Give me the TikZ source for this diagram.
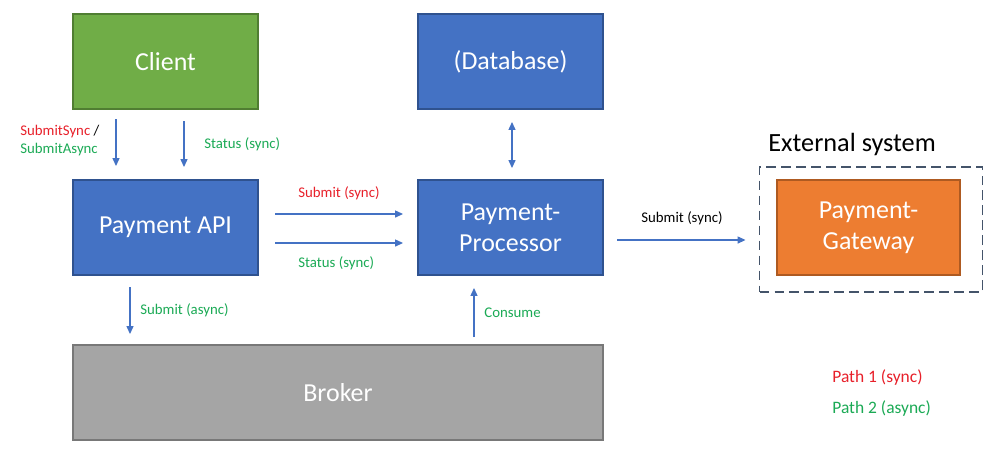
\documentclass[tikz,border=0pt]{standalone}
\usepackage{fontspec}
\setmainfont{Carlito}
\usetikzlibrary{arrows.meta,calc}
\newlength\pxu
\setlength\pxu{0.567pt}
\definecolor{bxblue}{HTML}{4472C4}
\definecolor{bxblueb}{HTML}{2F528F}
\definecolor{bxgreen}{HTML}{70AD47}
\definecolor{bxgreenb}{HTML}{507E32}
\definecolor{bxorange}{HTML}{ED7D31}
\definecolor{bxorangeb}{HTML}{AE5A21}
\definecolor{bxgray}{HTML}{A5A5A5}
\definecolor{bxgrayb}{HTML}{787878}
\definecolor{lblred}{HTML}{E8202A}
\definecolor{lblgreen}{HTML}{1BAA55}
\definecolor{extline}{HTML}{44546A}
\tikzset{
  box/.style={rectangle, inner sep=0pt, outer sep=0pt, line width=1.1pt,
    minimum width=185\pxu, minimum height=95\pxu, text=white, align=center,
    font=\fontsize{14.7pt}{17.6pt}\selectfont},
  bluebox/.style={box, fill=bxblue, draw=bxblueb},
  arr/.style={draw=bxblue, line width=0.6pt, -{Triangle[length=4.5pt,width=4pt]}},
  darr/.style={draw=bxblue, line width=0.6pt, {Triangle[length=4.5pt,width=4pt]}-{Triangle[length=4.5pt,width=4pt]}},
  lbl/.style={inner sep=0pt, anchor=west, font=\fontsize{8.4pt}{10pt}\selectfont},
  pathlbl/.style={inner sep=0pt, anchor=west, font=\fontsize{9.9pt}{12pt}\selectfont},
}
\begin{document}
\begin{tikzpicture}[x=0.567pt, y=-0.567pt]
\useasboundingbox (0,0) rectangle (1000,464);
\fill[white] (0,0) rectangle (1000,464);

\node[box, fill=bxgreen, draw=bxgreenb] (client) at (165.5,61.5) {Client};
\node[bluebox] (db) at (510.5,61.5) {(Database)};
\node[bluebox] (api) at (165.5,227.5) {Payment API};
\node[bluebox] (proc) at (510.5,227.5) {Payment-\\Processor};
\node[box, fill=bxgray, draw=bxgrayb, minimum width=530\pxu] (broker) at (338,392.5) {Broker};
\node[draw=extline, dashed, dash pattern=on 5.5pt off 3pt, line width=1.1pt, inner sep=0pt,
      minimum width=223\pxu, minimum height=125\pxu] (ext) at (871,229.5) {};
\node[box, fill=bxorange, draw=bxorangeb, minimum width=183\pxu] (gw) at (868.5,227.5) {Payment-\\Gateway};
\node[inner sep=0pt, anchor=west, font=\fontsize{14.9pt}{17pt}\selectfont] (exttitle) at (768,144) {External system};

% Client -> API
\draw[arr] ([shift={(43,10)}]client.south west) -- ([shift={(43,-14)}]api.north west);
\draw[arr] ([shift={(111,12)}]client.south west) -- ([shift={(111,-13)}]api.north west);
\node[lbl] (lsync) at (20,132) {\textcolor{lblred}{SubmitSync} /};
\node[lbl, text=lblgreen] (lasync) at (20,150) {SubmitAsync};
\node[lbl, text=lblgreen] (lstatus1) at (204,144) {Status (sync)};

% API -> Processor
\draw[arr] ([shift={(17,34)}]api.north east) -- ([shift={(-15,34)}]proc.north west);
\draw[arr] ([shift={(17,63)}]api.north east) -- ([shift={(-15,63)}]proc.north west);
\node[lbl, text=lblred] (lsub) at (298,193) {Submit (sync)};
\node[lbl, text=lblgreen] (lstatus2) at (298,263) {Status (sync)};

% API -> Broker
\draw[arr] ([shift={(57,12)}]api.south west) -- ([shift={(57,-11)}]broker.north west);
\node[lbl, text=lblgreen] (lsubasync) at (140,310) {Submit (async)};

% Broker -> Processor
\draw[arr] ([shift={(401,-8)}]broker.north west) -- ([shift={(56,13)}]proc.south west);
\node[lbl, text=lblgreen] (lconsume) at (484,313) {Consume};

% Database <-> Processor
\draw[darr] ([shift={(1.5,13)}]db.south) -- ([shift={(1.5,-12)}]proc.north);

% Processor -> Gateway
\draw[arr] ([shift={(14,12.5)}]proc.east) -- ([shift={(-13,10.5)}]ext.west);
\node[lbl] (lsub2) at (641,218) {Submit (sync)};

% Legend
\node[pathlbl, text=lblred] (p1) at (832,378) {Path 1 (sync)};
\node[pathlbl, text=lblgreen] (p2) at (832,409) {Path 2 (async)};
\end{tikzpicture}
\end{document}
